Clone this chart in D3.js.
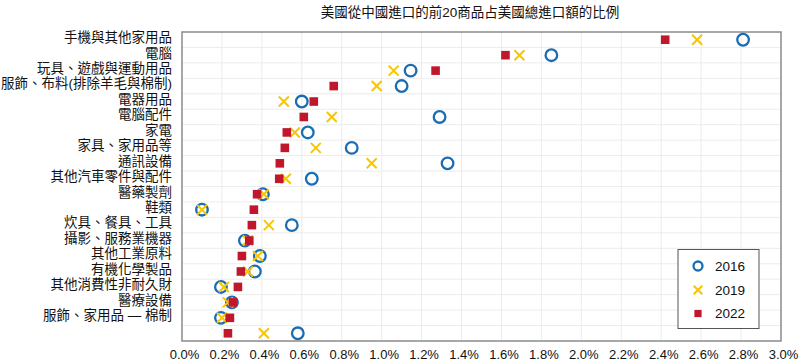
<!DOCTYPE html>
<html><head><meta charset="utf-8">
<script src="https://cdn.jsdelivr.net/npm/d3@7"></script>
<style>
body{margin:0;background:#fff;}
svg text{font-family:"Liberation Sans","Noto Sans CJK TC",sans-serif;fill:#111;}
</style></head>
<body><svg id="c" width="800" height="361"></svg>
<script>
const title = "美國從中國進口的前20商品占美國總進口額的比例";
const categories = ["手機與其他家用品","電腦","玩具、遊戲與運動用品","服飾、布料(排除羊毛與棉制)","電器用品","電腦配件","家電","家具、家用品等","通訊設備","其他汽車零件與配件","醫藥製劑","鞋類","炊具、餐具、工具","攝影、服務業機器","其他工業原料","有機化學製品","其他消費性非耐久財","醫療設備","服飾、家用品 — 棉制",""];
const v2016 = [2.81,1.85,1.145,1.10,0.60,1.29,0.63,0.85,1.33,0.65,0.405,0.10,0.55,0.315,0.39,0.365,0.195,0.25,0.195,0.58];
const v2019 = [2.58,1.69,1.06,0.975,0.51,0.75,0.565,0.67,0.95,0.52,0.41,0.10,0.435,0.33,0.38,0.33,0.21,0.23,0.20,0.41];
const v2022 = [2.42,1.62,1.27,0.76,0.66,0.61,0.525,0.515,0.49,0.487,0.376,0.36,0.35,0.337,0.30,0.295,0.28,0.255,0.24,0.23];
const xTicks = [0,0.2,0.4,0.6,0.8,1.0,1.2,1.4,1.6,1.8,2.0,2.2,2.4,2.6,2.8,3.0];
const years = ["2016","2019","2022"];

const svg = d3.select("#c");
const L=182, R=781, T=32, B=341;
const x = d3.scaleLinear().domain([0,3]).range([L,R]);
const y = d3.scaleBand().domain(d3.range(categories.length)).range([T,B]).padding(0);

svg.append("text").attr("x",470).attr("y",17).attr("text-anchor","middle")
  .attr("font-size","13.5px").text(title);

// grid
const g = svg.append("g");
g.selectAll("line.v").data(xTicks.slice(1,-1)).join("line")
  .attr("x1",d=>x(d)).attr("x2",d=>x(d)).attr("y1",T).attr("y2",B)
  .attr("stroke","#ececec").attr("stroke-width",1);
g.selectAll("line.h").data(d3.range(1,categories.length)).join("line")
  .attr("x1",L).attr("x2",R).attr("y1",d=>y(d)).attr("y2",d=>y(d))
  .attr("stroke","#ececec").attr("stroke-width",1);

// x axis labels
const xa = d3.axisBottom(x).tickValues(xTicks).tickSize(0).tickPadding(0)
  .tickFormat(d=>d3.format(".1f")(d)+"%");
const xg = svg.append("g").attr("transform",`translate(0,${B})`).call(xa);
xg.select(".domain").remove();
xg.selectAll("text").attr("font-size","13px").attr("dy",null).attr("y",18)
  .attr("dx","2px").style("font-family","'Liberation Sans',sans-serif").attr("fill","#111");

// y labels
const ya = d3.axisLeft(y).tickSize(0).tickPadding(10).tickFormat(i=>categories[i]);
const yg = svg.append("g").attr("transform",`translate(${L},0)`).call(ya);
yg.select(".domain").remove();
yg.selectAll("text").attr("font-size","13.5px").attr("dy","0.32em").attr("y",-2).attr("fill","#111");

// frame
svg.append("rect").attr("x",L).attr("y",T).attr("width",R-L).attr("height",B-T)
  .attr("fill","none").attr("stroke","#8a8a8a").attr("stroke-width",1.5);

const blue="#1a6db3", gold="#f7c600", red="#c1172c";
const yc = i=>y(i)+y.bandwidth()/2;

function circle(sel, cx, cy, r){ sel.append("circle").attr("cx",cx).attr("cy",cy).attr("r",r)
  .attr("fill","none").attr("stroke",blue).attr("stroke-width",2.3); }
function cross(sel, cx, cy, s){ sel.append("path")
  .attr("d",`M${cx-s},${cy-s}L${cx+s},${cy+s}M${cx-s},${cy+s}L${cx+s},${cy-s}`)
  .attr("stroke",gold).attr("stroke-width",2).attr("fill","none"); }
function square(sel, cx, cy, s){ sel.append("rect").attr("x",cx-s).attr("y",cy-s)
  .attr("width",2*s).attr("height",2*s).attr("fill",red); }

const pts = svg.append("g");
v2016.forEach((v,i)=>circle(pts, x(v), yc(i), 5.8));
v2019.forEach((v,i)=>cross(pts, x(v), yc(i), 5));
v2022.forEach((v,i)=>square(pts, x(v), yc(i), 4.3));

// legend
const lg = svg.append("g");
lg.append("rect").attr("x",678).attr("y",249.5).attr("width",81).attr("height",79)
  .attr("fill","#fff").attr("stroke","#555").attr("stroke-width",1);
const ly = [266,290,313.5];
circle(lg, 698, ly[0], 4.5);
cross(lg, 698, ly[1], 4.3);
square(lg, 698, ly[2], 3.6);
years.forEach((yr,i)=>lg.append("text").attr("x",715).attr("y",ly[i]).attr("dy","0.35em")
  .attr("font-size","13.5px").text(yr));
</script></body></html>
